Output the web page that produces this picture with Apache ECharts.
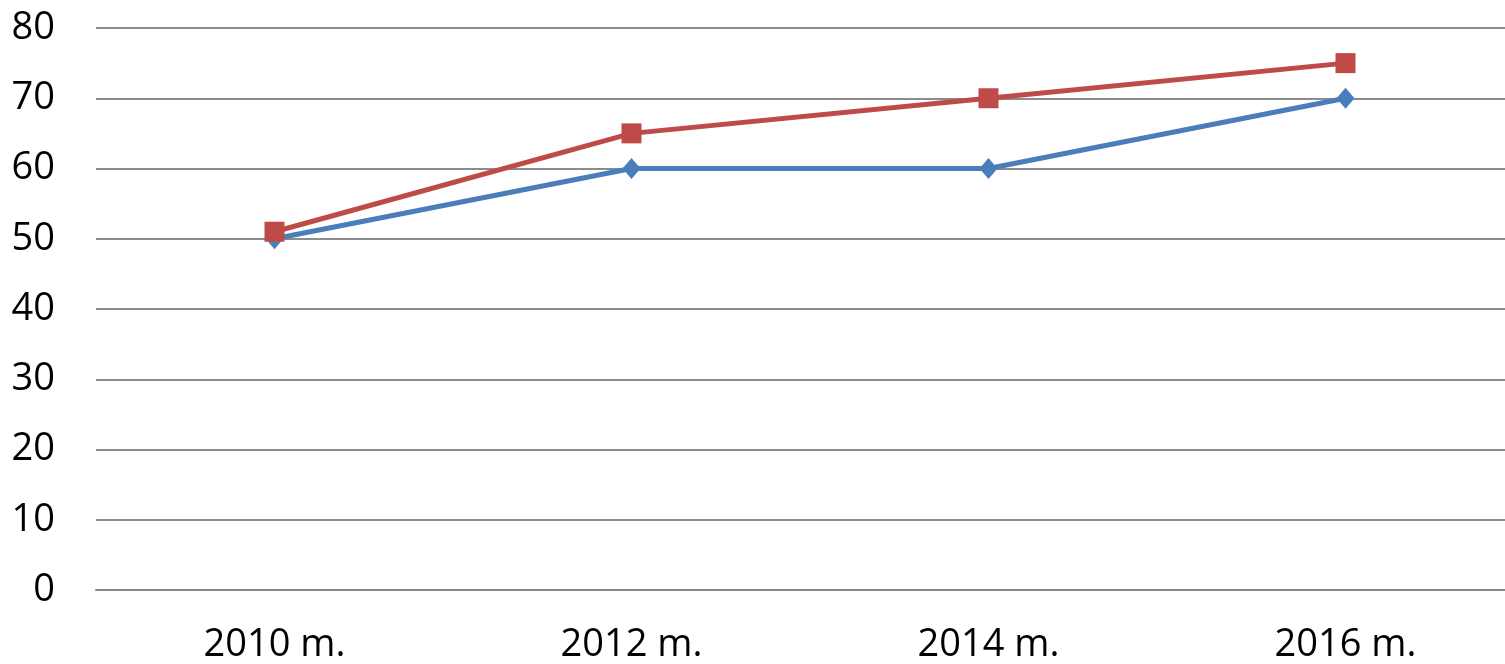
<!DOCTYPE html>
<html><head><meta charset="utf-8">
<script src="https://cdn.jsdelivr.net/npm/echarts@6/dist/echarts.min.js"></script>
<style>html,body{margin:0;padding:0;background:#fff;overflow:hidden}#c{width:1524px;height:664px}</style>
</head><body><div id="c"></div>
<script>
const categories = ['2010 m.', '2012 m.', '2014 m.', '2016 m.'];
const seriesBlue = [50, 60, 60, 70];
const seriesRed = [51, 65, 70, 75];
const yTicks = {min: 0, max: 80, interval: 10};

const chart = echarts.init(document.getElementById('c'));
chart.setOption({
  animation: false,
  grid: {left: 96, right: 0, top: 28, bottom: 71, containLabel: false},
  xAxis: {
    type: 'category', data: categories, boundaryGap: true,
    axisLine: {show: true, lineStyle: {color: '#868686', width: 2}},
    axisTick: {show: false},
    axisLabel: {color: '#000', fontFamily: 'Open Sans', fontSize: 38, margin: 36}
  },
  yAxis: {
    type: 'value', min: yTicks.min, max: yTicks.max, interval: yTicks.interval,
    axisLine: {show: false}, axisTick: {show: false},
    splitLine: {lineStyle: {color: '#8c8c8c', width: 2}},
    axisLabel: {color: '#000', fontFamily: 'Open Sans', fontSize: 38, margin: 41}
  },
  series: [
    {type: 'line', data: seriesBlue, symbol: 'diamond', symbolSize: [18, 21],
     lineStyle: {color: '#4a7ebb', width: 5}, itemStyle: {color: '#4a7ebb'}, z: 2},
    {type: 'line', data: seriesRed, symbol: 'rect', symbolSize: 20,
     lineStyle: {color: '#be4b48', width: 5}, itemStyle: {color: '#be4b48'}, z: 3}
  ]
});
</script></body></html>
